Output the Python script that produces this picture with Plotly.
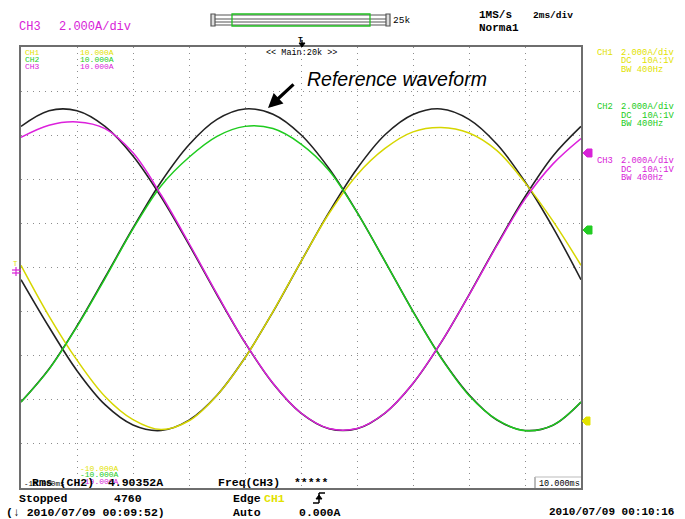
import plotly.graph_objects as go

W, H = 685, 519

# ---- sampled waveforms: time in ms (2 ms/div, 10 div), current in A (2 A/div) ----
t_ms = [-10, -9, -8, -7, -6, -5, -4, -3, -2, -1, 0, 1, 2, 3, 4, 5, 6, 7, 8, 9, 10]

# black reference waveforms (one per phase)
ref_a = [6.40, 7.11, 7.11, 6.40, 5.06, 3.21, 1.04, -1.24, -3.41, -5.26, -6.60,
         -7.31, -7.31, -6.60, -5.26, -3.41, -1.24, 1.04, 3.21, 5.06, 6.40]
ref_b = [-6.10, -4.60, -2.65, -0.45, 1.79, 3.88, 5.57, 6.72, 7.19, 6.95, 6.02,
         4.49, 2.51, 0.28, -1.99, -4.08, -5.77, -6.92, -7.39, -7.15, -6.10]
ref_c = [-0.55, -2.70, -4.68, -6.22, -7.14, -7.39, -6.92, -5.79, -4.09, -2.01, 0.27,
         2.50, 4.48, 6.02, 6.94, 7.19, 6.72, 5.59, 3.89, 1.81, -0.55]

# measured channels
ch1 = [0.10, -2.20, -4.20, -5.85, -6.90, -7.35, -6.95, -5.80, -4.10, -2.00, 0.27,
       2.45, 4.20, 5.40, 6.15, 6.35, 6.10, 5.30, 3.85, 2.10, 0.10]
ch2 = [-6.10, -4.62, -2.68, -0.50, 1.75, 3.70, 5.00, 5.95, 6.40, 6.30, 5.60,
       4.40, 2.50, 0.28, -2.00, -4.10, -5.80, -6.90, -7.40, -7.15, -6.10]
ch3 = [5.90, 6.45, 6.60, 6.30, 5.20, 3.30, 1.10, -1.20, -3.40, -5.25, -6.60,
       -7.30, -7.30, -6.60, -5.25, -3.40, -1.25, 1.00, 3.10, 4.70, 5.85]

YEL = "#d6d600"
GRN = "#1ecb1e"
MAG = "#dc20dc"
YEL_T = "#e2e200"
GRN_T = "#22cc22"
MAG_T = "#d822d8"
MONO = "Liberation Mono, DejaVu Sans Mono, monospace"

fig = go.Figure()

for ref in (ref_a, ref_b, ref_c):
    fig.add_trace(go.Scatter(x=t_ms, y=ref, mode="lines",
                             line=dict(color="#222222", width=1.6, shape="spline"),
                             hoverinfo="skip", showlegend=False))

for vals, col in ((ch1, YEL), (ch2, GRN), (ch3, MAG)):
    fig.add_trace(go.Scatter(x=t_ms, y=vals, mode="lines",
                             line=dict(color=col, width=1.5, shape="spline"),
                             hoverinfo="skip", showlegend=False))


def P(x, y):
    return x / W, 1 - y / H


annotations = []


def txt(x, y, s, color="black", size=11, family=MONO, anchor="left", bold=False, italic=False):
    px, py = P(x, y)
    if bold:
        s = "<b>" + s + "</b>"
    if italic:
        s = "<i>" + s + "</i>"
    annotations.append(dict(x=px, y=py, xref="paper", yref="paper", text=s,
                            showarrow=False, xanchor=anchor, yanchor="middle",
                            font=dict(family=family, size=size, color=color)))


# header
txt(17, 27, "CH3", MAG_T, 12)
txt(57, 27, "2.000A/div", MAG_T, 12)
txt(477, 15, "1MS/s", "black", 11, bold=True)
txt(531, 15, "2ms/div", "black", 9.5, bold=True)
txt(477, 28, "Norma1", "black", 11, bold=True)
txt(391, 20, "25k", "black", 9.5)
txt(296, 39, "T", "black", 8, bold=True)
txt(264, 53, "<< Main:20k >>", "black", 8.5)

# channel legend inside the grid
for i, (lab, col) in enumerate((("CH1", YEL_T), ("CH2", GRN_T), ("CH3", MAG_T))):
    y = 52.5 + 7 * i
    txt(23, y, lab, col, 8)
    txt(78, y, "10.000A", col, 8)
for i, col in enumerate((YEL_T, GRN_T, MAG_T)):
    txt(78, 468 + 6.5 * i, "-10.000A", col, 8)

# right-hand channel settings
for y0, lab, col in ((52.5, "CH1", YEL_T), (107, "CH2", GRN_T), (161, "CH3", MAG_T)):
    txt(595, y0, lab, col, 8.8)
    txt(619, y0, "2.000A/div", col, 8.8)
    txt(619, y0 + 8.5, "DC  10A:1V", col, 8.8)
    txt(619, y0 + 17, "BW 400Hz", col, 8.8)

# measurement line and footer
txt(22, 484, "-10.000ms", "black", 7.5)
txt(30, 482, "Rms (CH2)  4.90352A", "black", 11.5, bold=True)
txt(216, 482, "Freq(CH3)  *****", "black", 11.5, bold=True)
txt(537, 484, "10.000ms", "black", 8.5)
txt(17, 498, "Stopped", "black", 11.5, bold=True)
txt(112, 498, "4760", "black", 11.5, bold=True)
txt(231, 498, "Edge", "black", 11.5, bold=True)
txt(262, 498, "CH1", YEL_T, 11.5, bold=True)
txt(4, 512, "(\u2193 2010/07/09 00:09:52)", "black", 11.5, bold=True)
txt(231, 512, "Auto", "black", 11.5, bold=True)
txt(297, 512, "0.000A", "black", 11.5, bold=True)
txt(547, 512, "2010/07/09 00:10:16", "black", 11, bold=True)

# trigger level marker on the left edge
txt(11, 264, "T", YEL_T, 7.5)

# reference waveform call-out
txt(305, 79, "Reference waveform", "black", 19.5,
    family="Liberation Sans, Arial, sans-serif", italic=True)
hx, hy = P(268, 108)
annotations.append(dict(x=hx, y=hy, xref="paper", yref="paper", text="",
                        showarrow=True, ax=27, ay=-25, arrowhead=2, arrowsize=0.9,
                        arrowwidth=3.2, arrowcolor="black"))

shapes = []


def rect(x0, y0, x1, y1, line_col, fill=None, width=1):
    a0, b0 = P(x0, y0)
    a1, b1 = P(x1, y1)
    shapes.append(dict(type="rect", xref="paper", yref="paper", x0=a0, y0=b1, x1=a1, y1=b0,
                       line=dict(color=line_col, width=width),
                       fillcolor=fill if fill else "rgba(0,0,0,0)"))


def seg(x0, y0, x1, y1, col, width=1):
    a0, b0 = P(x0, y0)
    a1, b1 = P(x1, y1)
    shapes.append(dict(type="line", xref="paper", yref="paper", x0=a0, y0=b0, x1=a1, y1=b1,
                       line=dict(color=col, width=width)))


def path(points, col):
    d = "M " + " L ".join(f"{x / W:.5f},{1 - y / H:.5f}" for x, y in points) + " Z"
    shapes.append(dict(type="path", xref="paper", yref="paper", path=d,
                       fillcolor=col, line=dict(color=col, width=1)))


# record-length scroll bar
seg(214, 15, 387, 15, "#555555", 1.2)
seg(214, 19, 387, 19, "#555555", 1.2)
seg(214, 22, 387, 22, "#555555", 1.2)
seg(214, 25, 387, 25, "#555555", 1.2)
rect(211, 14, 215, 26, "#555555", "#dddddd", 1.2)
rect(386, 14, 390, 26, "#555555", "#dddddd", 1.2)
rect(232, 14, 370, 26, "#22c022", None, 1.3)

# trigger position arrow
seg(302, 40, 302, 46, "black", 1.3)
path([(299, 43), (305, 43), (302, 47)], "black")

# channel offset markers on the right edge
path([(583, 153), (587, 149), (592, 149), (592, 157), (587, 157)], MAG_T)
path([(583, 230), (587, 226), (592, 226), (592, 234), (587, 234)], GRN_T)
path([(582, 421), (586, 417), (590, 417), (590, 425), (586, 425)], YEL_T)

# ground marker on the left edge
seg(12, 270, 21, 270, MAG_T, 1.2)
seg(12, 273, 21, 273, MAG_T, 1.2)
seg(16, 267, 16, 276, MAG_T, 1.2)

# end-of-screen time label box
seg(535, 477, 535, 488, "#777777", 1)
seg(535, 477, 581, 477, "#bbbbbb", 1)

# rising-edge trigger symbol
seg(313, 503, 319, 503, "black", 1.5)
seg(319, 503, 319, 493, "black", 1.5)
seg(319, 493, 325, 493, "black", 1.5)
path([(316, 499), (322, 499), (319, 495)], "black")

axis_common = dict(range=[-10, 10], dtick=2, tick0=0, showgrid=True,
                   gridcolor="#8c8c8c", gridwidth=1, griddash="1px,5px",
                   zeroline=False, showticklabels=False, ticks="",
                   showline=True, linecolor="#6e6e6e", linewidth=2, mirror=True,
                   fixedrange=True)

fig.update_layout(
    width=W, height=H,
    margin=dict(l=0, r=0, t=0, b=0),
    paper_bgcolor="white", plot_bgcolor="white",
    xaxis=dict(domain=[21 / W, 581 / W], **axis_common),
    yaxis=dict(domain=[1 - 488 / H, 1 - 47 / H], **axis_common),
    annotations=annotations,
    shapes=shapes,
    showlegend=False,
)

fig.write_html("out.html")
